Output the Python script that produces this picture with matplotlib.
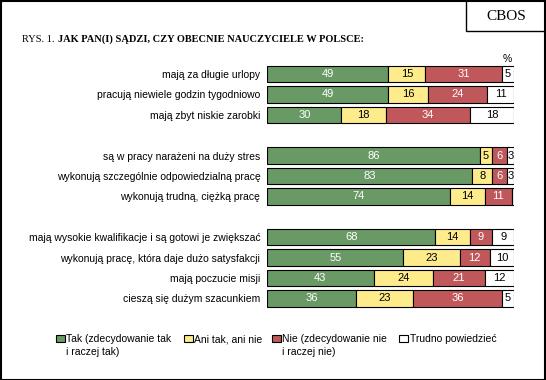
import numpy as np
import matplotlib.pyplot as plt
import matplotlib.patches as patches

plt.rcParams['font.family'] = ['Liberation Sans', 'DejaVu Sans']

# data
labels = ['mają za długie urlopy',
          'pracują niewiele godzin tygodniowo',
          'mają zbyt niskie zarobki',
          'są w pracy narażeni na duży stres',
          'wykonują szczególnie odpowiedzialną pracę',
          'wykonują trudną, ciężką pracę',
          'mają wysokie kwalifikacje i są gotowi je zwiększać',
          'wykonują pracę, która daje dużo satysfakcji',
          'mają poczucie misji',
          'cieszą się dużym szacunkiem']
tak = [49, 49, 30, 86, 83, 74, 68, 55, 43, 36]
ani = [15, 16, 18, 5, 8, 14, 14, 23, 24, 23]
nie = [31, 24, 34, 6, 6, 11, 9, 12, 21, 36]
trudno = [5, 11, 18, 3, 3, 1, 9, 10, 12, 5]
rows = [0, 1, 2, 4, 5, 6, 8, 9, 10, 11]

series_names = ['Tak (zdecydowanie tak\ni raczej tak)', 'Ani tak, ani nie',
                'Nie (zdecydowanie nie\ni raczej nie)', 'Trudno powiedzieć']
colors = ['#699a66', '#fdeb8c', '#c0585b', '#ffffff']
text_colors = ['white', 'black', 'white', 'black']

W, H = 546, 380
fig = plt.figure(figsize=(W / 100, H / 100), dpi=100)

# outer frame
fig.patches.append(patches.Rectangle((0.5 / W, 0.5 / H), 1 - 1.5 / W, 1 - 1.5 / H,
                                     transform=fig.transFigure, fill=False,
                                     edgecolor='black', linewidth=1.5))
# CBOS box
fig.patches.append(patches.Rectangle((466 / W, 1 - 31 / H), 80 / W, 31 / H,
                                     transform=fig.transFigure, fill=False,
                                     edgecolor='black', linewidth=1))
fig.text(506 / W, 1 - 16 / H, 'CBOS', family='Liberation Serif', fontsize=11,
         ha='center', va='center')

fig.text(22 / W, 1 - 39 / H, 'RYS. 1. ', family='Liberation Serif', fontsize=7.5,
         ha='left', va='center')
fig.text(57.5 / W, 1 - 39 / H, 'JAK PAN(I) SĄDZI, CZY OBECNIE NAUCZYCIELE W POLSCE:',
         family='Liberation Serif', fontsize=7.5, fontweight='bold', ha='left', va='center')

ax = fig.add_axes([267.3 / W, 1 - 308.5 / H, 247 / W, (308.5 - 63.8) / H])
series = [tak, ani, nie, trudno]
left = np.zeros(len(tak))
for vals, col, tcol in zip(series, colors, text_colors):
    vals = np.array(vals)
    ax.barh(rows, vals, left=left, height=0.81, color=col, edgecolor='black', linewidth=0.8)
    for r, l, v in zip(rows, left, vals):
        if v >= 3:
            ax.text(l + v / 2, r, str(v), ha='center', va='center', color=tcol, fontsize=8)
    left = left + vals

ax.set_xlim(0, 100)
ax.set_ylim(11.5, -0.5)
ax.set_yticks(rows)
ax.set_yticklabels(labels, fontsize=7.5)
ax.tick_params(axis='y', length=0, pad=5)
ax.set_xticks([])
for s in ax.spines.values():
    s.set_visible(False)

fig.text(507 / W, 1 - 59 / H, '%', fontsize=7.5, ha='center', va='center')

# legend
leg_x = [56, 184, 272, 399]
for x, name, col in zip(leg_x, series_names, colors):
    fig.patches.append(patches.Rectangle((x / W, 1 - 342 / H), 9 / W, 7 / H,
                                         transform=fig.transFigure, facecolor=col,
                                         edgecolor='black', linewidth=0.8))
    fig.text((x + 10.5) / W, 1 - 334.5 / H, name, fontsize=7.5, ha='left', va='top',
             linespacing=1.35)

fig.savefig('out.png', dpi=100)
